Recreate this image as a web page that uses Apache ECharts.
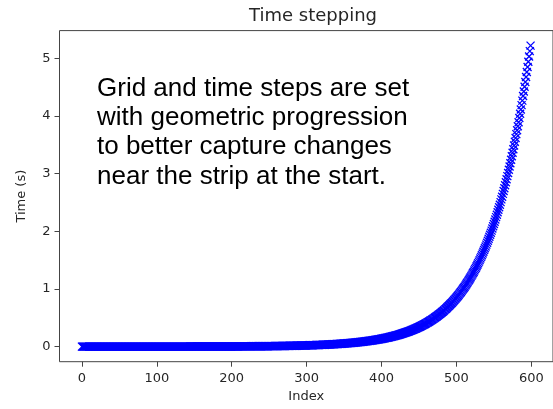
<!DOCTYPE html>
<html>
<head>
<meta charset="utf-8">
<script src="https://cdn.jsdelivr.net/npm/echarts@6/dist/echarts.min.js"></script>
<style>
  html, body { margin: 0; padding: 0; background: #fff; }
  #chart { width: 553px; height: 409px; }
</style>
</head>
<body>
<div id="chart"></div>
<script>
// Simulation time at each step index (seconds); the array position is the step index.
const timeValues = [
  0,0,0,0.00001,0.00001,0.00001,0.00001,0.00001,0.00001,0.00002,
  0.00002,0.00002,0.00002,0.00002,0.00003,0.00003,0.00003,0.00003,0.00003,0.00004,
  0.00004,0.00004,0.00004,0.00005,0.00005,0.00005,0.00005,0.00006,0.00006,0.00006,
  0.00007,0.00007,0.00007,0.00007,0.00008,0.00008,0.00008,0.00009,0.00009,0.00009,
  0.0001,0.0001,0.0001,0.00011,0.00011,0.00011,0.00012,0.00012,0.00013,0.00013,
  0.00013,0.00014,0.00014,0.00015,0.00015,0.00015,0.00016,0.00016,0.00017,0.00017,
  0.00018,0.00018,0.00019,0.00019,0.0002,0.0002,0.00021,0.00021,0.00022,0.00023,
  0.00023,0.00024,0.00024,0.00025,0.00026,0.00026,0.00027,0.00028,0.00028,0.00029,
  0.0003,0.0003,0.00031,0.00032,0.00033,0.00033,0.00034,0.00035,0.00036,0.00037,
  0.00037,0.00038,0.00039,0.0004,0.00041,0.00042,0.00043,0.00044,0.00045,0.00046,
  0.00047,0.00048,0.00049,0.0005,0.00051,0.00052,0.00053,0.00054,0.00056,0.00057,
  0.00058,0.00059,0.0006,0.00062,0.00063,0.00064,0.00066,0.00067,0.00069,0.0007,
  0.00071,0.00073,0.00074,0.00076,0.00077,0.00079,0.00081,0.00082,0.00084,0.00086,
  0.00088,0.00089,0.00091,0.00093,0.00095,0.00097,0.00099,0.00101,0.00103,0.00105,
  0.00107,0.00109,0.00111,0.00113,0.00116,0.00118,0.0012,0.00123,0.00125,0.00128,
  0.0013,0.00133,0.00135,0.00138,0.00141,0.00143,0.00146,0.00149,0.00152,0.00155,
  0.00158,0.00161,0.00164,0.00168,0.00171,0.00174,0.00178,0.00181,0.00185,0.00188,
  0.00192,0.00195,0.00199,0.00203,0.00207,0.00211,0.00215,0.00219,0.00223,0.00228,
  0.00232,0.00237,0.00241,0.00246,0.0025,0.00255,0.0026,0.00265,0.0027,0.00275,
  0.00281,0.00286,0.00291,0.00297,0.00303,0.00308,0.00314,0.0032,0.00326,0.00333,
  0.0034,0.0035,0.0035,0.0036,0.0037,0.0037,0.0038,0.0039,0.0039,0.004,
  0.0041,0.0042,0.0042,0.0043,0.0044,0.0045,0.0046,0.0047,0.0047,0.0048,
  0.0049,0.005,0.0051,0.0052,0.0053,0.0054,0.0055,0.0056,0.0057,0.0058,
  0.0059,0.006,0.0062,0.0063,0.0064,0.0065,0.0066,0.0068,0.0069,0.007,
  0.0072,0.0073,0.0074,0.0076,0.0077,0.0078,0.008,0.0081,0.0083,0.0084,
  0.0086,0.0088,0.0089,0.0091,0.0093,0.0094,0.0096,0.0098,0.01,0.0102,
  0.0104,0.0105,0.0107,0.0109,0.0112,0.0114,0.0116,0.0118,0.012,0.0122,
  0.0125,0.0127,0.0129,0.0132,0.0134,0.0137,0.0139,0.0142,0.0144,0.0147,
  0.015,0.0153,0.0155,0.0158,0.0161,0.0164,0.0167,0.017,0.0174,0.0177,
  0.018,0.0184,0.0187,0.019,0.0194,0.0198,0.0201,0.0205,0.0209,0.0213,
  0.0217,0.0221,0.0225,0.0229,0.0233,0.0237,0.0242,0.0246,0.0251,0.0256,
  0.026,0.0265,0.027,0.0275,0.028,0.0285,0.0291,0.0296,0.0302,0.0307,
  0.0313,0.0319,0.0324,0.0331,0.0337,0.0343,0.0349,0.0356,0.0362,0.0369,
  0.0376,0.0383,0.039,0.0397,0.0405,0.0412,0.042,0.0428,0.0435,0.0444,
  0.0452,0.046,0.0469,0.0477,0.0486,0.0495,0.0504,0.0514,0.0523,0.0533,
  0.0543,0.0553,0.0563,0.0574,0.0584,0.0595,0.0606,0.0617,0.0629,0.064,
  0.0652,0.0664,0.0677,0.0689,0.0702,0.0715,0.0728,0.0742,0.0755,0.0769,
  0.0784,0.0798,0.0813,0.0828,0.0843,0.0859,0.0875,0.0891,0.0908,0.0924,
  0.0941,0.0959,0.0977,0.0995,0.1013,0.1032,0.1051,0.107,0.109,0.111,
  0.1131,0.1152,0.1173,0.1195,0.1217,0.124,0.1263,0.1286,0.131,0.1334,
  0.136,0.138,0.141,0.144,0.146,0.149,0.152,0.154,0.157,0.160,
  0.163,0.166,0.169,0.172,0.176,0.179,0.182,0.186,0.189,0.193,
  0.196,0.200,0.203,0.207,0.211,0.215,0.219,0.223,0.227,0.231,
  0.236,0.240,0.244,0.249,0.253,0.258,0.263,0.268,0.273,0.278,
  0.283,0.288,0.294,0.299,0.305,0.310,0.316,0.322,0.328,0.334,
  0.340,0.346,0.353,0.359,0.366,0.373,0.379,0.386,0.394,0.401,
  0.408,0.416,0.424,0.431,0.439,0.448,0.456,0.464,0.473,0.482,
  0.490,0.500,0.509,0.518,0.528,0.538,0.548,0.558,0.568,0.578,
  0.589,0.600,0.611,0.622,0.634,0.646,0.658,0.670,0.682,0.695,
  0.708,0.721,0.734,0.748,0.762,0.776,0.790,0.805,0.820,0.835,
  0.850,0.866,0.882,0.898,0.915,0.932,0.949,0.967,0.984,1.003,
  1.021,1.040,1.059,1.079,1.099,1.119,1.140,1.161,1.183,1.204,
  1.227,1.249,1.273,1.296,1.320,1.344,1.369,1.395,1.421,1.447,
  1.474,1.501,1.529,1.557,1.586,1.615,1.645,1.675,1.706,1.738,
  1.770,1.803,1.836,1.870,1.905,1.940,1.976,2.012,2.050,2.087,
  2.126,2.165,2.206,2.246,2.288,2.330,2.373,2.417,2.462,2.507,
  2.554,2.601,2.649,2.698,2.748,2.800,2.851,2.904,2.957,3.012,
  3.068,3.124,3.182,3.241,3.301,3.362,3.424,3.488,3.552,3.618,
  3.685,3.753,3.822,3.893,3.965,4.039,4.113,4.189,4.267,4.346,
  4.426,4.508,4.591,4.676,4.764,4.851,4.941,5.032,5.125,5.220
];

const xTicks = [0, 100, 200, 300, 400, 500, 600];
const yTicks = [0, 1, 2, 3, 4, 5];

const chartTitle = 'Time stepping';
const xName = 'Index';
const yName = 'Time (s)';
const noteLines = [
  'Grid and time steps are set',
  'with geometric progression',
  'to better capture changes',
  'near the strip at the start.'
];

const points = timeValues.map((t, i) => [i, t]);

// axis ranges padded by 5% of the data span on each side
const lastIndex = timeValues.length - 1;
const xPad = lastIndex * 0.05;
const tMax = Math.max(...timeValues);
const yPad = tMax * 0.05;

const axisColor = '#444';
const tickFont = { color: '#262626', fontFamily: 'DejaVu Sans', fontSize: 13 };

const chart = echarts.init(document.getElementById('chart'), null, { renderer: 'canvas' });

chart.setOption({
  animation: false,
  backgroundColor: '#fff',
  title: {
    text: chartTitle,
    left: 308,
    top: 2,
    textAlign: 'center',
    textStyle: { fontFamily: 'DejaVu Sans', fontSize: 18, fontWeight: 'normal', color: '#262626' }
  },
  grid: {
    left: 59.5,
    top: 30.6,
    width: 506.8,
    height: 331.1,
    show: true,
    borderColor: axisColor,
    borderWidth: 1,
    backgroundColor: 'transparent'
  },
  xAxis: {
    type: 'value',
    min: -xPad,
    max: lastIndex + xPad,
    splitLine: { show: false },
    axisLine: { show: false, onZero: false },
    axisTick: { show: true, inside: false, length: 5, customValues: xTicks, lineStyle: { color: axisColor } },
    axisLabel: Object.assign({ margin: 10, customValues: xTicks, formatter: v => String(v) }, tickFont),
    name: xName,
    nameLocation: 'middle',
    nameGap: 28,
    nameTextStyle: tickFont
  },
  yAxis: {
    type: 'value',
    min: -yPad,
    max: tMax + yPad,
    splitLine: { show: false },
    axisLine: { show: false, onZero: false },
    axisTick: { show: true, inside: false, length: 5, customValues: yTicks, lineStyle: { color: axisColor } },
    axisLabel: Object.assign({ margin: 9, customValues: yTicks, formatter: v => String(v) }, tickFont),
    name: yName,
    nameLocation: 'middle',
    nameGap: 31,
    nameTextStyle: tickFont
  },
  series: [{
    type: 'scatter',
    data: points,
    symbol: 'path://M0,0L10,10M10,0L0,10',
    symbolSize: 8,
    itemStyle: { color: '#0000ff', borderColor: '#0000ff', borderWidth: 1.3, opacity: 1 },
    emphasis: { disabled: true },
    silent: true
  }],
  graphic: [{
    type: 'text',
    left: 97,
    top: 74,
    style: {
      text: noteLines.join('\n'),
      font: '26px "Liberation Sans", Arial, sans-serif',
      lineHeight: 29.3,
      fill: '#000'
    }
  }]
});
</script>
</body>
</html>
